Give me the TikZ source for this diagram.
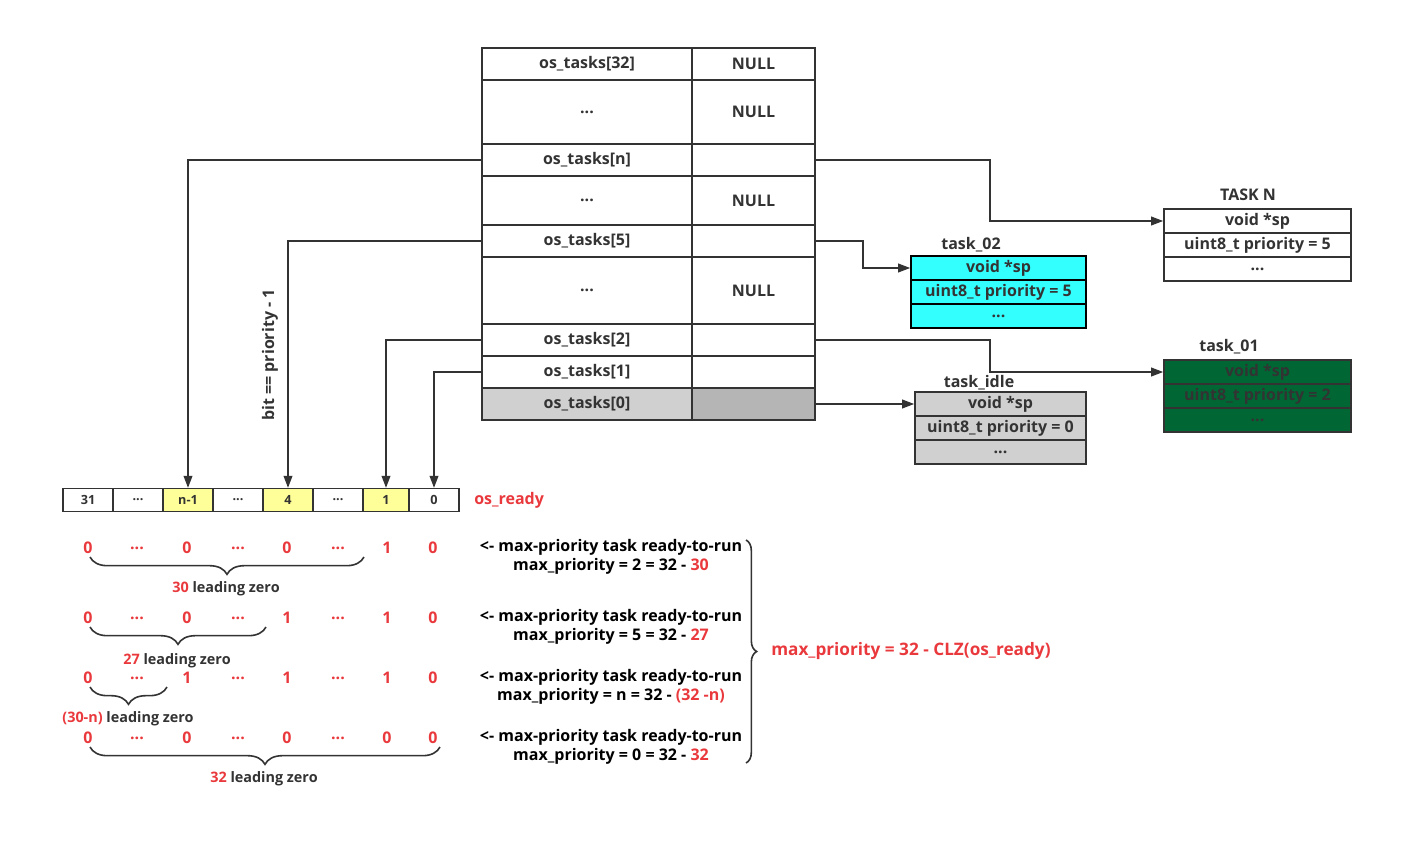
\documentclass[tikz,border=0pt]{standalone}
\usepackage{fontspec}
\setmainfont{Open Sans}
\usetikzlibrary{arrows.meta}
\usetikzlibrary{decorations.pathreplacing}

\definecolor{linegray}{HTML}{333333}
\definecolor{redtext}{RGB}{233,57,61}
\definecolor{bityellow}{HTML}{FFFF99}
\definecolor{taskcyan}{HTML}{33FFFF}
\definecolor{taskgreen}{HTML}{006633}
\definecolor{idlegray}{HTML}{D0D0D0}
\definecolor{slotgray}{HTML}{B5B5B5}
\newcommand{\skipdots}{...}

\begin{document}
\begin{tikzpicture}[x=0.75pt,y=-0.75pt,line width=1.2pt,color=linegray,
	>={Triangle[length=9pt,width=6.5pt]},font=\fontsize{12}{14}\selectfont\bfseries]
	\tikzstyle{namecell}=[draw,inner sep=0pt,minimum height=24pt,minimum width=157.5pt]
	\tikzstyle{ptrcell}=[draw,inner sep=0pt,minimum height=24pt,minimum width=92.25pt]
	\tikzstyle{bit}=[draw,inner sep=0pt,minimum height=17pt,minimum width=37.5pt,font=\fontsize{9.5}{11}\selectfont\bfseries]
	\tikzstyle{field}=[draw,inner sep=0pt,minimum height=18pt]
	\tikzstyle{digit}=[text=redtext]
	\tikzstyle{lead}=[decorate,decoration={brace,mirror,amplitude=13pt}]
	\tikzstyle{small}=[font=\fontsize{10.8}{12}\selectfont\bfseries]
	\tikzstyle{result}=[align=center,text=black,font=\fontsize{12}{14.25}\selectfont\bfseries]
	
	\useasboundingbox (0,0) rectangle (1413,860);
	
	% os_tasks table
	\node[namecell](t32) at (587,64){os\_tasks[32]};
	\node[ptrcell](p32) at (753.5,64){NULL};
	\node[namecell,minimum height=48pt](td1) at (587,112){...};
	\node[ptrcell,minimum height=48pt](pd1) at (753.5,112){NULL};
	\node[namecell](tn) at (587,160){os\_tasks[n]};
	\node[ptrcell](pn) at (753.5,160){};
	\node[namecell,minimum height=36.75pt](td2) at (587,200.5){...};
	\node[ptrcell,minimum height=36.75pt](pd2) at (753.5,200.5){NULL};
	\node[namecell](t5) at (587,241){os\_tasks[5]};
	\node[ptrcell](p5) at (753.5,241){};
	\node[namecell,minimum height=50.25pt](td3) at (587,290.5){...};
	\node[ptrcell,minimum height=50.25pt](pd3) at (753.5,290.5){NULL};
	\node[namecell](t2) at (587,340){os\_tasks[2]};
	\node[ptrcell](p2) at (753.5,340){};
	\node[namecell](t1) at (587,372){os\_tasks[1]};
	\node[ptrcell](p1) at (753.5,372){};
	\node[namecell,fill=idlegray](t0) at (587,404){os\_tasks[0]};
	\node[ptrcell,fill=slotgray](p0) at (753.5,404){};
	
	% os_ready bits
	\node[bit](b31) at (88,500){31};
	\node[bit](bd1) at (138,500){...};
	\node[bit,fill=bityellow](bn) at (188,500){n-1};
	\node[bit](bd2) at (238,500){...};
	\node[bit,fill=bityellow](b4) at (288,500){4};
	\node[bit](bd3) at (338,500){...};
	\node[bit,fill=bityellow,minimum width=34.5pt](b1) at (386,500){1};
	\node[bit](b0) at (434,500){0};
	\node[text=redtext,anchor=west](osready) at (469,500){os\_ready};
	
	\draw[->] (tn.west) -| (bn.north);
	\draw[->] (t5.west) -| (b4.north);
	\draw[->] (t2.west) -| (b1.north);
	\draw[->] (t1.west) -| (b0.north);
	\node[rotate=90](bitrule) at (270,355){bit == priority - 1};
	
	% tasks
	\node(tasknt) at (1248,195){TASK N};
	\node[field,minimum width=140.25pt](tn1) at (1257.5,221){void *sp};
	\node[field,minimum width=140.25pt](tn2) at (1257.5,245){uint8\_t priority = 5};
	\node[field,minimum width=140.25pt](tn3) at (1257.5,269){...};
	
	\node(task02t) at (971,245){task\_02};
	\node[field,draw=black,fill=taskcyan,minimum width=131.25pt](c1) at (998.5,268){void *sp};
	\node[field,draw=black,fill=taskcyan,minimum width=131.25pt](c2) at (998.5,292){uint8\_t priority = 5};
	\node[field,draw=black,fill=taskcyan,minimum width=131.25pt](c3) at (998.5,316){...};
	
	\node(taskidlet) at (979,383){task\_idle};
	\node[field,fill=idlegray,minimum width=128.25pt](i1) at (1000.5,404){void *sp};
	\node[field,fill=idlegray,minimum width=128.25pt](i2) at (1000.5,428){uint8\_t priority = 0};
	\node[field,fill=idlegray,minimum width=128.25pt](i3) at (1000.5,452){...};
	
	\node(task01t) at (1229,347){task\_01};
	\node[field,fill=taskgreen,minimum width=140.25pt](g1) at (1257.5,372){void *sp};
	\node[field,fill=taskgreen,minimum width=140.25pt](g2) at (1257.5,396){uint8\_t priority = 2};
	\node[field,fill=taskgreen,minimum width=140.25pt](g3) at (1257.5,420){...};
	
	\coordinate(bendn) at (990,160);
	\coordinate(bend5) at (863,241);
	\coordinate(bend2) at (990,340);
	\draw[->] (pn.east) -- (bendn) |- (tn1.west);
	\draw[->] (p5.east) -- (bend5) |- (c1.west);
	\draw[->] (p2.east) -- (bend2) |- (g1.west);
	\draw[->] (p0.east) -- (i1.west);
	
	% leading zeros
	\foreach \x/\v [count=\i] in {88/0,137/\skipdots,187/0,238/\skipdots,287/0,338/\skipdots,387/1,433/0}
		\node[digit](ra\i) at (\x,548){\v};
	\foreach \x/\v [count=\i] in {88/0,137/\skipdots,187/0,238/\skipdots,287/1,338/\skipdots,387/1,433/0}
		\node[digit](rb\i) at (\x,618){\v};
	\foreach \x/\v [count=\i] in {88/0,137/\skipdots,187/1,238/\skipdots,287/1,338/\skipdots,387/1,433/0}
		\node[digit](rc\i) at (\x,678){\v};
	\foreach \x/\v [count=\i] in {88/0,137/\skipdots,187/0,238/\skipdots,287/0,338/\skipdots,387/0,433/0}
		\node[digit](rd\i) at (\x,738){\v};
	
	\draw[lead] (90,557) -- (364,557);
	\draw[lead] (90,627) -- (266,627);
	\draw[lead] (90,687) -- (167,687);
	\draw[lead] (90,747) -- (440,747);
	\node[small](lz1) at (226,589){\textcolor{redtext}{30} leading zero};
	\node[small](lz2) at (177,661){\textcolor{redtext}{27} leading zero};
	\node[small](lz3) at (128,719){\textcolor{redtext}{(30-n)} leading zero};
	\node[small](lz4) at (264,779){\textcolor{redtext}{32} leading zero};
	
	% max priority
	\node[result](m1) at (611,556.5){<- max-priority task ready-to-run\\max\_priority = 2 = 32 - \textcolor{redtext}{30}};
	\node[result](m2) at (611,626.5){<- max-priority task ready-to-run\\max\_priority = 5 = 32 - \textcolor{redtext}{27}};
	\node[result](m3) at (611,686.5){<- max-priority task ready-to-run\\max\_priority = n = 32 - \textcolor{redtext}{(32 -n)}};
	\node[result](m4) at (611,746.5){<- max-priority task ready-to-run\\max\_priority = 0 = 32 - \textcolor{redtext}{32}};
	
	\draw[decorate,decoration={brace,amplitude=8pt}] (746,540) -- (746,763);
	\node[text=redtext,anchor=west,font=\fontsize{12.9}{15}\selectfont\bfseries](clz) at (766,651){max\_priority = 32 - CLZ(os\_ready)};
\end{tikzpicture}
\end{document}
